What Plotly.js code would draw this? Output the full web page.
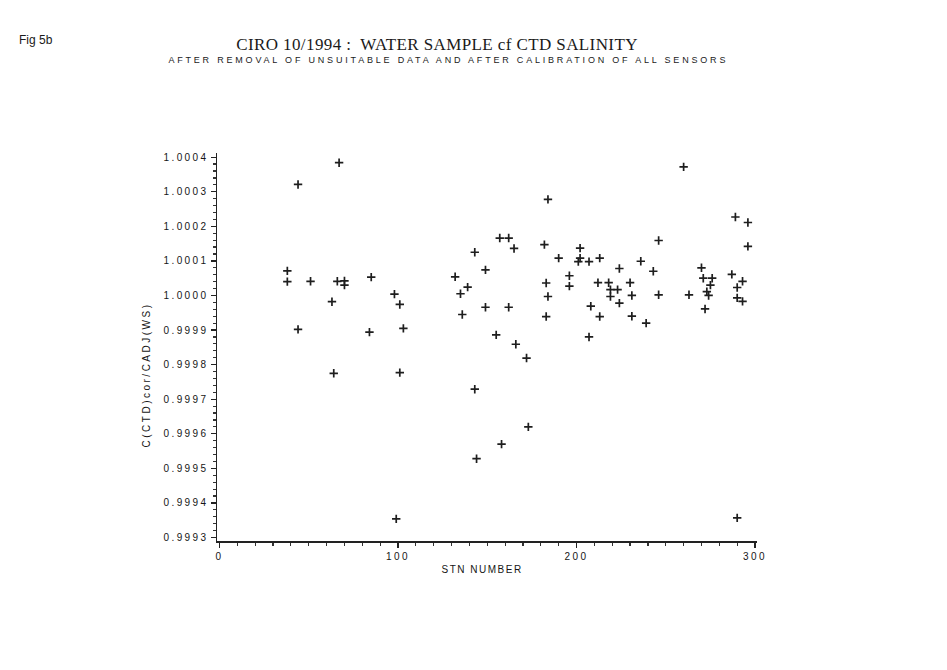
<!DOCTYPE html>
<html>
<head>
<meta charset="utf-8">
<script src="https://cdn.plot.ly/plotly-3.0.1.min.js"></script>
<style>
  html, body { margin: 0; padding: 0; background: #ffffff; }
  #chart { width: 947px; height: 670px; }
  .xtick text, .ytick text { letter-spacing: 2.4px; }
  .annotation[data-index="0"] text { letter-spacing: 0.4px; }
  .annotation[data-index="1"] text { letter-spacing: 2.8px; }
  .annotation[data-index="3"] text { letter-spacing: 2.5px; }
  .annotation[data-index="4"] text { letter-spacing: 1.5px; }
</style>
</head>
<body>
<div id="chart"></div>
<script>
// Station numbers (STN NUMBER)
const stations = [
  38, 38, 44, 44, 51, 63, 64, 66, 67, 70, 70, 84, 85, 98, 99, 101, 101, 103,
  132, 135, 136, 139, 143, 143, 144, 149, 149, 155, 157, 158, 162, 162, 165, 166,
  172, 173, 182, 183, 183, 184, 184, 190, 196, 196, 201, 202, 202, 207, 207, 208,
  212, 213, 213, 218, 219, 219, 223, 224, 224, 230, 231, 231, 236, 239, 243, 246,
  246, 260, 263, 270, 271, 272, 273, 274, 275, 276, 287, 289, 290, 290, 290, 293,
  293, 296, 296
];
// Ratio C(CTD)cor / CADJ(WS)
const ratio = [
  1.000071, 1.000040, 1.000321, 0.999902, 1.000041, 0.999982, 0.999775, 1.000041, 1.000384,
  1.000042, 1.000030, 0.999894, 1.000053, 1.000004, 0.999354, 0.999974, 0.999777, 0.999905,
  1.000054, 1.000005, 0.999945, 1.000024, 0.999729, 1.000125, 0.999528, 1.000074, 0.999966,
  0.999886, 1.000166, 0.999570, 1.000166, 0.999966, 1.000136, 0.999859, 0.999819, 0.999620,
  1.000147, 1.000036, 0.999939, 1.000278, 0.999997, 1.000108, 1.000057, 1.000027, 1.000098,
  1.000137, 1.000108, 1.000098, 0.999880, 0.999969, 1.000037, 1.000108, 0.999939, 1.000037,
  1.000017, 0.999997, 1.000017, 1.000078, 0.999978, 1.000037, 1.000000, 0.999940, 1.000099,
  0.999920, 1.000070, 1.000159, 1.000002, 1.000372, 1.000002, 1.000080, 1.000050, 0.999961,
  1.000011, 1.000000, 1.000030, 1.000050, 1.000061, 1.000227, 0.999357, 1.000023, 0.999993,
  1.000041, 0.999983, 1.000211, 1.000142
];
const yTickVals = [0.9993, 0.9994, 0.9995, 0.9996, 0.9997, 0.9998, 0.9999, 1.0000, 1.0001, 1.0002, 1.0003, 1.0004];
const yTickText = ['0.9993', '0.9994', '0.9995', '0.9996', '0.9997', '0.9998', '0.9999', '1.0000', '1.0001', '1.0002', '1.0003', '1.0004'];
const xTickVals = [0, 100, 200, 300];
const xTickText = ['0', '100', '200', '300'];

const trace = {
  type: 'scatter',
  mode: 'markers',
  x: stations,
  y: ratio,
  marker: {
    symbol: 'cross-thin',
    size: 6,
    color: '#1e1e1e',
    line: { color: '#1e1e1e', width: 1.7 }
  },
  hoverinfo: 'x+y',
  showlegend: false
};

const tickFont = { family: 'Liberation Sans, Arial, sans-serif', size: 10, color: '#161616' };

const layout = {
  width: 947,
  height: 670,
  margin: { l: 217, r: 190, t: 153, b: 129 },
  paper_bgcolor: '#ffffff',
  plot_bgcolor: '#ffffff',
  showlegend: false,
  xaxis: {
    range: [-1.4, 301.1],
    showgrid: false,
    zeroline: false,
    showline: true,
    linecolor: '#222222',
    linewidth: 1.5,
    ticks: 'outside',
    ticklen: 5,
    tickwidth: 1.3,
    tickcolor: '#222222',
    tickmode: 'array',
    tickvals: xTickVals,
    ticktext: xTickText,
    tickfont: tickFont,
    minor: { dtick: 10, ticks: 'outside', ticklen: 3, tickwidth: 1.2, tickcolor: '#333333', showgrid: false }
  },
  yaxis: {
    range: [0.99929, 1.000412],
    showgrid: false,
    zeroline: false,
    showline: true,
    linecolor: '#222222',
    linewidth: 1.5,
    ticks: 'outside',
    ticklen: 5,
    tickwidth: 1.3,
    tickcolor: '#222222',
    tickmode: 'array',
    tickvals: yTickVals,
    ticktext: yTickText,
    tickfont: tickFont,
    minor: { dtick: 0.00002, ticks: 'outside', ticklen: 3, tickwidth: 1.2, tickcolor: '#333333', showgrid: false }
  },
  annotations: [
    {
      text: 'CIRO 10/1994 :  WATER SAMPLE cf CTD SALINITY',
      xref: 'paper', yref: 'paper', x: 0.407, y: 1.279,
      xanchor: 'center', yanchor: 'middle', showarrow: false,
      font: { family: 'Liberation Serif, Times New Roman, serif', size: 17, color: '#1a1a1a' }
    },
    {
      text: 'AFTER REMOVAL OF UNSUITABLE DATA AND AFTER CALIBRATION OF ALL SENSORS',
      xref: 'paper', yref: 'paper', x: 0.428, y: 1.240,
      xanchor: 'center', yanchor: 'middle', showarrow: false,
      font: { family: 'Liberation Sans, Arial, sans-serif', size: 9, color: '#1a1a1a' }
    },
    {
      text: 'Fig 5b',
      xref: 'paper', yref: 'paper', x: -0.37, y: 1.291,
      xanchor: 'left', yanchor: 'middle', showarrow: false,
      font: { family: 'Liberation Sans, Arial, sans-serif', size: 12, color: '#1a1a1a' }
    },
    {
      text: 'C(CTD)cor/CADJ(WS)',
      xref: 'paper', yref: 'paper', x: -0.1296, y: 0.428,
      xanchor: 'center', yanchor: 'middle', showarrow: false, textangle: -90,
      font: { family: 'Liberation Sans, Arial, sans-serif', size: 10, color: '#161616' }
    },
    {
      text: 'STN NUMBER',
      xref: 'paper', yref: 'paper', x: 0.49, y: -0.0747,
      xanchor: 'center', yanchor: 'middle', showarrow: false,
      font: { family: 'Liberation Sans, Arial, sans-serif', size: 10, color: '#161616' }
    }
  ]
};

Plotly.newPlot('chart', [trace], layout, { displayModeBar: false, staticPlot: true });
</script>
</body>
</html>
